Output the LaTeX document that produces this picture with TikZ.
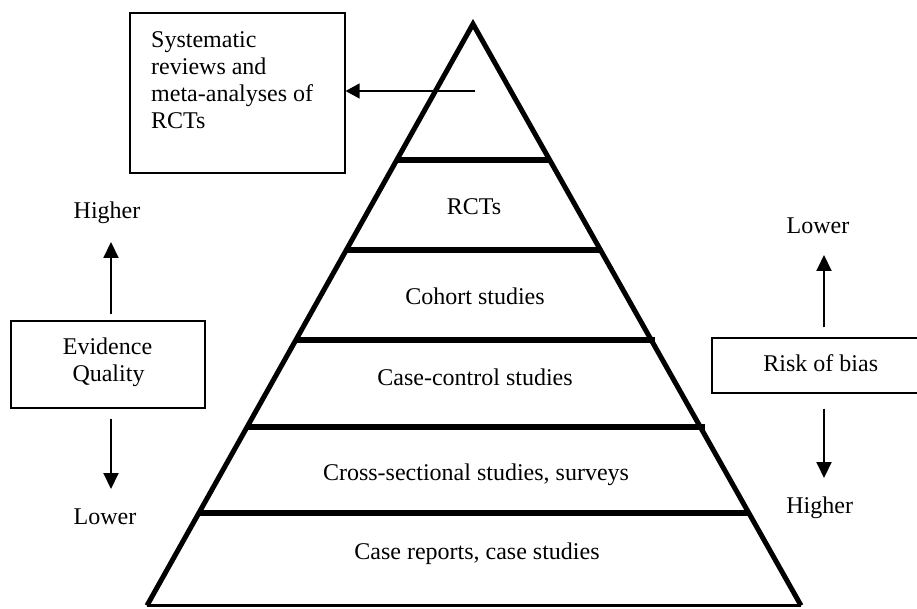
\documentclass[tikz,border=0pt]{standalone}
\usepackage{fontspec}
\setmainfont{Liberation Serif}
\usetikzlibrary{arrows.meta,calc}
\begin{document}
\begin{tikzpicture}[x=1pt,y=-1pt,
  txt/.style={font={\fontsize{24}{26.7}\selectfont}, inner sep=0pt},
  boxframe/.style={draw, line width=1.2pt, inner sep=0pt},
  arr/.style={line width=2pt, -{Triangle[length=16pt,width=15pt]}},
  harr/.style={line width=1.3pt, -{Triangle[length=14pt,width=15pt]}},
  side/.style={line width=5pt, line join=miter},
  band/.style={line width=6pt}]
\clip (0,0) rectangle (917,609);
\fill[white] (0,0) rectangle (917,609);

% pyramid
\coordinate (apex) at (473,24);
\coordinate (bl) at (147,605.5);
\coordinate (br) at (801,605.5);
\foreach \f/\e in {0.2339/0, 0.3886/0, 0.5434/4, 0.6922/5, 0.8409/0}{
  \draw[band] ($(apex)!\f!(bl)$) -- ([xshift=\e pt]$(apex)!\f!(br)$);
}
\draw[side] (bl) -- (apex) -- (br);
\draw[line width=3pt] (bl) -- (br);

% level labels
\node[txt, anchor=base] (rct) at (474,215) {RCTs};
\node[txt, anchor=base] (coh) at (475,305) {Cohort studies};
\node[txt, anchor=base] (cc) at (475,385) {Case-control studies};
\node[txt, anchor=base] (cs) at (476,480) {Cross-sectional studies, surveys};
\node[txt, anchor=base] (cr) at (477,559) {Case reports, case studies};

% systematic reviews box
\node[boxframe, minimum width=215pt, minimum height=160pt] (sa) at (237.5,93) {};
\node[txt, anchor=north west, align=left] (satxt) at (151,31.9)
  {Systematic\\reviews and\\meta-analyses of\\RCTs};
\coordinate (saTail) at (475,91);
\draw[harr] (saTail) -- (sa.east |- saTail);

% evidence quality
\node[boxframe, minimum width=194pt, minimum height=87pt] (eq) at (108,364.5) {};
\node[txt, anchor=base] (eq1) at (107.5,354) {Evidence};
\node[txt, anchor=base] (eq2) at (108.5,381.7) {Quality};
\node[txt, anchor=base] (eqhi) at (107,218.3) {Higher};
\node[txt, anchor=base] (eqlo) at (105,524) {Lower};
\coordinate (eqUp) at (111,242);
\coordinate (eqDn) at (111,489);
\draw[arr] ([xshift=3pt,yshift=6pt]eq.north) -- (eqUp);
\draw[arr] ([xshift=3pt,yshift=-10pt]eq.south) -- (eqDn);

% risk of bias
\node[boxframe, minimum width=218pt, minimum height=55pt] (rb) at (821,365.5) {};
\node[txt, anchor=base] (rbt) at (820.8,371.7) {Risk of bias};
\node[txt, anchor=base] (rblo) at (818,233.3) {Lower};
\node[txt, anchor=base] (rbhi) at (819.7,513.3) {Higher};
\coordinate (rbUp) at (824,255);
\coordinate (rbDn) at (824,478);
\draw[arr] ([xshift=3pt,yshift=10pt]rb.north) -- (rbUp);
\draw[arr] ([xshift=3pt,yshift=-15pt]rb.south) -- (rbDn);
\end{tikzpicture}
\end{document}
